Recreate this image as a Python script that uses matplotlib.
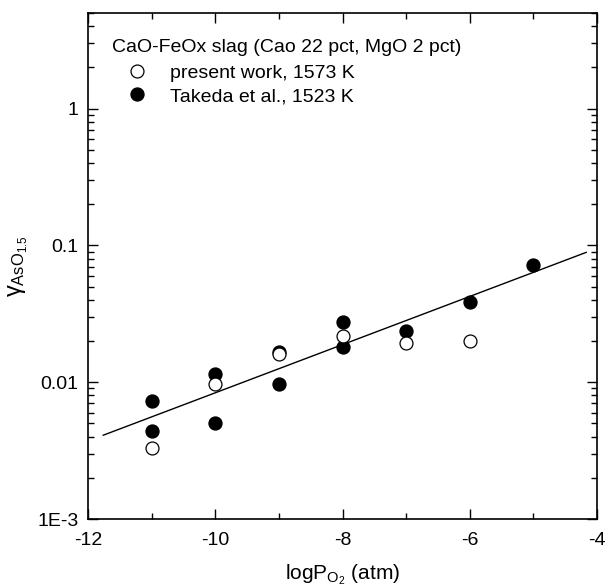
import matplotlib
matplotlib.use('Agg')
from matplotlib import pyplot as plt
from matplotlib.ticker import LogLocator, FixedLocator, MultipleLocator, FixedFormatter
import numpy as np

plt.rcParams['font.family'] = ['Liberation Sans', 'DejaVu Sans']
plt.rcParams['mathtext.fontset'] = 'custom'
plt.rcParams['mathtext.rm'] = 'Liberation Sans'
plt.rcParams['mathtext.it'] = 'Liberation Sans'
plt.rcParams['axes.unicode_minus'] = False

# present work, 1573 K (open)
open_x = [-11, -10, -9, -8, -7, -6]
open_y = [0.0033, 0.0097, 0.016, 0.0217, 0.0193, 0.0199]

# Takeda et al., 1523 K (filled)
fill_x = [-11, -11, -10, -10, -9, -9, -8, -8, -7, -6, -5]
fill_y = [0.0073, 0.0044, 0.0114, 0.0050, 0.0166, 0.0097, 0.0274, 0.018, 0.0236, 0.0384, 0.0714]

# fitted line end points
line_x = [-11.76, -4.17]
line_y = [0.0041, 0.089]

fig = plt.figure(figsize=(6.06, 5.87), dpi=100)
ax = fig.add_axes([0.1452, 0.1158, 0.840, 0.862])

ax.plot(line_x, line_y, color='black', lw=1.0)
ax.plot(fill_x, fill_y, 'o', ms=9.3, mfc='black', mec='black', ls='none',
        label='Takeda et al., 1523 K', zorder=3)
ax.plot(open_x, open_y, 'o', ms=9.3, mfc='white', mec='black', mew=0.9, ls='none',
        label='present work, 1573 K', zorder=4)

ax.set_yscale('log')
ax.set_xlim(-12, -4)
ax.set_ylim(1e-3, 5)

ax.xaxis.set_major_locator(MultipleLocator(2))
ax.xaxis.set_minor_locator(MultipleLocator(1))
ax.yaxis.set_major_locator(FixedLocator([1e-3, 1e-2, 1e-1, 1]))
ax.yaxis.set_major_formatter(FixedFormatter(['1E-3', '0.01', '0.1', '1']))
ax.yaxis.set_minor_locator(LogLocator(base=10, subs=np.arange(2, 10)))
ax.yaxis.set_minor_formatter(plt.NullFormatter())

ax.tick_params(which='both', direction='in', top=True, right=True, labelsize=14, width=1.0)
ax.tick_params(which='major', length=7)
ax.tick_params(which='minor', length=4)
ax.tick_params(axis='x', pad=9)
ax.tick_params(axis='y', pad=7)
for s in ax.spines.values():
    s.set_linewidth(1.2)

ax.set_xlabel(r'logP$_{\mathregular{O_2}}$ (atm)', fontsize=15, labelpad=10)
ax.set_ylabel(r'$\gamma_{\mathregular{AsO_{1.5}}}$', fontsize=17, labelpad=5)

ax.text(0.047, 0.931, 'CaO-FeOx slag (Cao 22 pct, MgO 2 pct)', transform=ax.transAxes,
        fontsize=14, ha='left', va='center')
handles, labels = ax.get_legend_handles_labels()
leg = ax.legend(handles[::-1], labels[::-1], loc='upper left', frameon=False,
                fontsize=14, bbox_to_anchor=(0.077, 0.899), borderpad=0.0,
                handlelength=1.0, handletextpad=1.2, labelspacing=0.3, borderaxespad=0.0)

fig.savefig('out.png', dpi=100)
plt.close(fig)
